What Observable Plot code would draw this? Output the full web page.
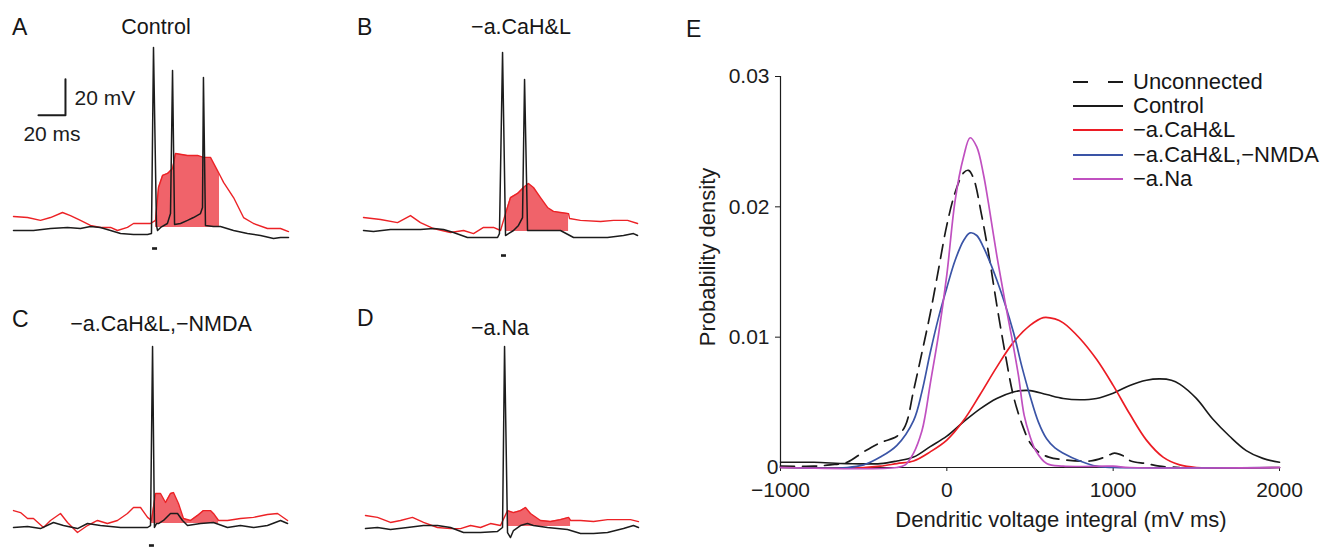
<!DOCTYPE html>
<html><head><meta charset="utf-8">
<script src="https://cdn.jsdelivr.net/npm/d3@7"></script>
<script src="https://cdn.jsdelivr.net/npm/@observablehq/plot@0.6"></script>
<style>
html,body{margin:0;padding:0;background:#fff;overflow:hidden}
#fig{position:relative;width:1322px;height:547px;font-family:"Liberation Sans",Arial,Helvetica,sans-serif;color:#161616;background:#fff}
#fig svg{position:absolute;overflow:visible}
</style></head>
<body><div id="fig"></div>
<script>
// ---------- Panels A-D : membrane potential traces (t in ms, v in mV) ----------
// soma (black) and dendrite (red) traces
const somaA = [[0,-70],[14.8,-70],[27.4,-68.9],[40,-68.3],[49.6,-68.9],[57,-67.8],[64.4,-68.3],[71.9,-70],[79.3,-71.7],[88.9,-72.2],[99.3,-72.2],[102.2,-71.7],[103.7,31.7],[105.9,-67.2],[106.7,-70],[109,-68.3],[114,-66.1],[116.3,-60.6],[117.8,18.9],[119.3,-66.7],[123.7,-66.1],[128.9,-64.4],[133.3,-62.8],[138.5,-60.6],[140,-57.2],[140.7,15],[142.2,-67.2],[148.1,-67.8],[153.3,-67.8],[163,-70],[173.3,-71.7],[183,-72.8],[192.6,-74.4],[197.8,-73.9],[203.7,-73.9]];
const dendA = [[0,-62.2],[10.4,-62.8],[20,-64.4],[27.4,-62.8],[36.3,-60],[42.2,-61.7],[49.6,-64.4],[57,-67.2],[64.4,-68.3],[71.9,-68.3],[77,-70],[84.4,-68.3],[88.9,-66.1],[96.3,-66.1],[101.5,-66.1],[105.2,-64.4],[107.4,-46.1],[110.4,-39.4],[114.1,-38.3],[117.8,-35.6],[120,-27.2],[128.9,-28.3],[136.3,-28.3],[140.7,-29.4],[145.9,-29.4],[151.1,-36.7],[152.6,-38.9],[155.6,-43.3],[163,-51.7],[170.4,-62.8],[177.8,-66.1],[188.1,-68.9],[197.8,-68.9],[203.7,-70.6]];
const somaB = [[0,-70],[7.4,-70.6],[20,-69.4],[32.6,-69.4],[42.2,-69.4],[51.9,-68.9],[59.3,-69.4],[66.7,-71.1],[77,-73.9],[86.7,-73.9],[99.3,-73.9],[100.7,-71.7],[103,28.9],[105.2,-72.8],[107.4,-71.7],[111.1,-70],[114.8,-67.2],[117.8,-62.8],[119.3,13.9],[121.5,-70],[131.1,-70],[145.9,-70],[155.6,-73.9],[170.4,-73.9],[180.7,-73.9],[192.6,-72.8],[200,-71.7],[203,-72.8]];
const dendB = [[0,-62.8],[12.6,-63.9],[25.2,-65.6],[34.8,-61.7],[42.2,-65.6],[51.9,-68.9],[64.4,-71.1],[74.1,-70],[81.5,-71.7],[88.9,-68.3],[96.3,-68.3],[101.5,-70],[105.2,-60.6],[108.9,-51.7],[114.1,-49.4],[118.5,-46.1],[122.2,-43.9],[125.9,-46.1],[131.1,-51.7],[136.3,-57.2],[140.7,-59.4],[145.9,-60],[151.9,-60.6],[152.6,-63.3],[160.7,-64.4],[175.6,-65],[185.2,-64.4],[195.6,-64.4],[203,-66.1]];
const somaC = [[0,-70],[10.4,-69.4],[20,-70.6],[29.6,-67.2],[37,-68.9],[47.4,-70.6],[54.8,-67.8],[64.4,-68.9],[71.9,-69.4],[79.3,-70],[88.9,-70],[99.3,-70],[101.5,-68.9],[103,30.6],[104.4,-70],[105.9,-67.8],[107.4,-67.8],[111.1,-66.1],[116.3,-62.2],[121.5,-62.2],[125.2,-66.1],[128.9,-68.9],[138.5,-67.8],[148.1,-67.2],[158.5,-70],[168.1,-68.9],[177.8,-70],[188.1,-68.9],[197.8,-66.1],[203,-67.8]];
const dendC = [[0,-60.6],[5.2,-61.7],[10.4,-65],[14.8,-65],[22.2,-70],[27.4,-66.1],[34.8,-62.2],[40,-67.2],[47.4,-72.8],[54.8,-68.9],[62.2,-66.1],[69.6,-67.8],[77,-66.1],[84.4,-62.2],[88.9,-58.9],[94.1,-58.9],[99.3,-64.4],[102.2,-66.1],[105.2,-51.1],[108.9,-51.1],[112.6,-56.1],[116.3,-51.1],[118.5,-50.6],[122.2,-56.7],[125.9,-65],[131.1,-66.1],[136.3,-63.3],[140.7,-60.6],[145.9,-60.6],[148.1,-62.2],[151.9,-66.1],[158.5,-66.1],[168.1,-65],[177.8,-64.4],[188.1,-62.8],[195.6,-62.2],[203,-66.1]];
const somaD = [[0,-70.6],[8.9,-70],[18.5,-71.1],[31.1,-70],[43,-68.9],[53.3,-68.9],[63,-70],[72.6,-72.8],[85.2,-72.8],[97.8,-72.2],[101.5,-70],[103,30.6],[105.2,-72.8],[107.4,-75.6],[109.6,-71.7],[114.8,-68.9],[120,-67.8],[124.4,-68.9],[134.8,-70],[149.6,-71.1],[159.3,-73.3],[168.9,-73.3],[179.3,-72.8],[191.1,-70.6],[198.5,-68.9],[202.2,-70]];
const dendD = [[0,-63.3],[8.9,-64.4],[18.5,-67.2],[25.9,-66.1],[34.8,-64.4],[43,-67.2],[53.3,-70],[63,-70.6],[70.4,-70.6],[77.8,-68.9],[85.2,-70],[92.6,-67.8],[100,-68.9],[105.2,-60.6],[109.6,-61.7],[114.8,-60.6],[118.5,-58.9],[122.2,-62.2],[129.6,-66.1],[137,-66.7],[144.4,-65.6],[150.4,-64.4],[151.9,-66.1],[159.3,-66.1],[168.9,-66.7],[179.3,-65.6],[188.9,-65.6],[196.3,-65.6],[202.2,-66.7]];
// integration window [start ms, end ms, baseline mV]
const windowA = [105.2, 152.6, -68.3];
const windowB = [105.2, 151.9, -70.6];
const windowC = [102.2, 151.9, -67.8];
const windowD = [105.2, 151.9, -69.4];
// stimulus marker [start ms, end ms, level mV]
const stimA = [103, 106.7, -80];
const stimB = [102.2, 105.9, -83.9];
const stimC = [100.7, 104.4, -80];
// scale bar: 20 ms, 20 mV
const scaleBar = [[18.5, -6], [38.5, -6], [38.5, 14]];
const scaleLabels = ["20 mV", "20 ms"];

// ---------- Panel E : probability densities ----------
const unconnected = [[-1000,0.0001],[-800,0.0001],[-700,0.0002],[-600,0.0004],[-500,0.0012],[-400,0.0019],[-300,0.0024],[-250,0.0032],[-200,0.0059],[-150,0.0088],[-100,0.0118],[-50,0.0152],[0,0.0186],[50,0.0211],[100,0.0226],[130,0.0228],[160,0.0222],[207,0.0195],[250,0.0165],[300,0.0125],[350,0.0088],[400,0.0055],[450,0.0034],[500,0.0019],[550,0.0012],[613,0.0008],[700,0.0006],[860,0.0005],[950,0.0008],[1007,0.0011],[1060,0.0009],[1106,0.0005],[1200,0.0003],[1278,0.0001],[1400,0]];
const control = [[-1000,0.0004],[-800,0.0004],[-600,0.0003],[-400,0.0003],[-300,0.0005],[-200,0.0008],[-100,0.0016],[0,0.0024],[100,0.0035],[200,0.0045],[300,0.0053],[400,0.0058],[450,0.0059],[500,0.0059],[600,0.0056],[700,0.0053],[800,0.0052],[900,0.0053],[1000,0.0057],[1100,0.0063],[1200,0.0067],[1280,0.0068],[1350,0.0067],[1400,0.0064],[1500,0.0053],[1600,0.0037],[1700,0.0024],[1800,0.0013],[1900,0.0007],[2000,0.0004]];
const noCaHL = [[-1000,0],[-500,0],[-400,0.0001],[-300,0.0003],[-200,0.0005],[-100,0.0012],[0,0.0021],[100,0.0036],[200,0.0056],[300,0.0077],[400,0.0096],[500,0.0109],[580,0.0115],[650,0.0114],[700,0.0111],[800,0.0099],[900,0.0083],[1000,0.0063],[1100,0.0041],[1200,0.0021],[1300,0.0008],[1400,0.0002],[1500,0],[2000,0]];
const noCaHLnoNMDA = [[-1000,0],[-600,0],[-500,0.0002],[-400,0.0008],[-300,0.0017],[-200,0.0036],[-150,0.0058],[-100,0.0088],[-50,0.0115],[0,0.0138],[50,0.0159],[100,0.0174],[140,0.018],[180,0.0178],[220,0.0169],[300,0.0144],[400,0.0104],[450,0.0078],[500,0.0055],[550,0.0035],[600,0.0022],[650,0.0015],[700,0.0011],[800,0.0005],[900,0.0001],[1000,0],[2000,0]];
const noNa = [[-1000,0],[-300,0],[-250,0.0002],[-200,0.0011],[-150,0.0028],[-130,0.004],[-100,0.0064],[-50,0.0102],[0,0.0148],[50,0.0205],[100,0.0238],[140,0.0253],[180,0.0246],[220,0.0225],[250,0.0203],[300,0.0163],[350,0.0127],[390,0.01],[430,0.0071],[465,0.004],[500,0.0024],[534,0.0013],[600,0.0003],[700,0.0001],[1000,0.0001],[1100,0],[2000,0]];
const seriesNames = ["Unconnected", "Control", "\u2212a.CaH&L", "\u2212a.CaH&L,\u2212NMDA", "\u2212a.Na"];
const seriesColors = ["#1a1a1a", "#1a1a1a", "#ec1c24", "#3a54a6", "#c050c0"];
const xTicks = [-1000, 0, 1000, 2000];
const yTicks = [0.01, 0.02, 0.03];
const xLabel = "Dendritic voltage integral (mV ms)";
const yLabel = "Probability density";

const FONT = '"Liberation Sans", Arial, Helvetica, sans-serif';
const BLACK = "#1c1c1c", RED = "#ec2226", FILL = "#f0636a";
const fig = document.getElementById("fig");

function put(node, left, top) { node.style.left = left + "px"; node.style.top = top + "px"; fig.appendChild(node); }
function label(txt, x, y, size, centered) {
  const d = document.createElement("div");
  d.textContent = txt;
  d.style.cssText = `position:absolute;left:${x}px;top:${y}px;font-size:${size}px;line-height:1;white-space:nowrap;transform:translate(${centered ? "-50%" : "0"},-50%)`;
  fig.appendChild(d);
}
const pts = a => a.map(([t, v]) => ({t, v}));

function tracePanel(soma, dend, win, stim, extra = []) {
  const S = pts(soma), D = pts(dend);
  const F = D.filter(d => d.t >= win[0] && d.t <= win[1]);
  const marks = [
    Plot.areaY(F, {x: "t", y1: win[2], y2: "v", fill: FILL}),
    Plot.line(D, {x: "t", y: "v", stroke: RED, strokeWidth: 1.4}),
    Plot.line(S, {x: "t", y: "v", stroke: BLACK, strokeWidth: 1.5})
  ];
  if (stim) marks.push(Plot.ruleY([stim[2]], {x1: stim[0], x2: stim[1], stroke: BLACK, strokeWidth: 2.6}));
  return Plot.plot({
    width: 300, height: 260, marginLeft: 13, marginRight: 12, marginTop: 32, marginBottom: 12,
    x: {domain: [0, 203.7], axis: null}, y: {domain: [-80, 40], axis: null},
    style: {background: "transparent", fontFamily: FONT},
    marks: marks.concat(extra)
  });
}

const scaleMarks = [
  Plot.line(pts(scaleBar), {x: "t", y: "v", stroke: BLACK, strokeWidth: 2}),
  Plot.text([scaleLabels[0]], {x: scaleBar[2][0], y: (scaleBar[1][1] + scaleBar[2][1]) / 2, text: d => d, dx: 9, dy: 1, textAnchor: "start", fontSize: 21, fill: BLACK}),
  Plot.text([scaleLabels[1]], {x: (scaleBar[0][0] + scaleBar[1][0]) / 2, y: scaleBar[0][1], text: d => d, dy: 19, fontSize: 21, fill: BLACK})
];

put(tracePanel(somaA, dendA, windowA, stimA, scaleMarks), 0, 0);
put(tracePanel(somaB, dendB, windowB, stimB), 350, 0);
put(tracePanel(somaC, dendC, windowC, stimC), 0, 297);
put(tracePanel(somaD, dendD, windowD, null), 352, 297);

label("A", 12, 27, 23, false);   label("Control", 156, 27.5, 21.5, true);
label("B", 357, 27, 23, false);  label(seriesNames[2], 521, 27.5, 21.5, true);
label("C", 12, 318.5, 23, false); label(seriesNames[3], 161, 325, 21.5, true);
label("D", 357, 318, 23, false);  label("\u2212a.Na", 500, 328.5, 21.5, true);
label("E", 686, 28.5, 23, false);

// ---------- Panel E ----------
const dens = [unconnected, control, noCaHL, noCaHLnoNMDA, noNa].map(a => a.map(([x, y]) => ({x, y})));
const fmtX = d => d < 0 ? "\u2212" + (-d) : String(d);
const plotE = Plot.plot({
  width: 642, height: 547, marginLeft: 100, marginRight: 43, marginTop: 76, marginBottom: 80,
  x: {domain: [-1000, 2000]}, y: {domain: [0, 0.03]},
  style: {background: "transparent", fontFamily: FONT, fontSize: "21px", color: BLACK},
  marks: [
    Plot.ruleX([-1000], {y1: 0, y2: 0.03, stroke: BLACK, strokeWidth: 1.2}),
    Plot.ruleY([0], {x1: -1000, x2: 2000, stroke: BLACK, strokeWidth: 1.2}),
    Plot.axisY(yTicks, {tickSize: 5, tickPadding: 6, tickFormat: d => d.toFixed(2), fontSize: 21, label: null}),
    Plot.axisY([0], {tickSize: 0, tickPadding: 2, tickFormat: d => "0", fontSize: 21, label: null}),
    Plot.axisX(xTicks, {tickSize: 4, tickPadding: 11, tickFormat: fmtX, fontSize: 21, label: null}),
    Plot.text([xLabel], {frameAnchor: "bottom", text: d => d, textAnchor: "middle", lineAnchor: "middle", dx: 31, dy: 52, fontSize: 22, fill: BLACK}),
    Plot.text([yLabel], {frameAnchor: "left", text: d => d, textAnchor: "middle", lineAnchor: "middle", rotate: -90, dx: -73, dy: -15, fontSize: 22, fill: BLACK}),
    Plot.line(dens[0], {x: "x", y: "y", stroke: seriesColors[0], strokeWidth: 1.7, strokeDasharray: "14,8", curve: "catmull-rom"}),
    Plot.line(dens[1], {x: "x", y: "y", stroke: seriesColors[1], strokeWidth: 1.6, curve: "catmull-rom"}),
    Plot.line(dens[2], {x: "x", y: "y", stroke: seriesColors[2], strokeWidth: 1.7, curve: "catmull-rom"}),
    Plot.line(dens[3], {x: "x", y: "y", stroke: seriesColors[3], strokeWidth: 1.7, curve: "catmull-rom"}),
    Plot.line(dens[4], {x: "x", y: "y", stroke: seriesColors[4], strokeWidth: 1.7, curve: "catmull-rom"})
  ]
});
put(plotE, 680, 0);

// legend
seriesNames.forEach((name, i) => {
  const row = document.createElement("div");
  row.style.cssText = `position:absolute;left:1073px;top:${81.5 + i * 24.4 - 12}px;height:24px;display:flex;align-items:center;font-size:22px;line-height:1;white-space:nowrap`;
  const dash = i === 0 ? 'stroke-dasharray="15,20"' : "";
  row.innerHTML = `<svg width="50" height="24" style="position:static;overflow:visible"><line x1="0" x2="50" y1="12" y2="12" stroke="${seriesColors[i]}" stroke-width="2" ${dash}/></svg><span style="margin-left:10px">${name.replace("&", "&amp;")}</span>`;
  fig.appendChild(row);
});
</script>
</body></html>
